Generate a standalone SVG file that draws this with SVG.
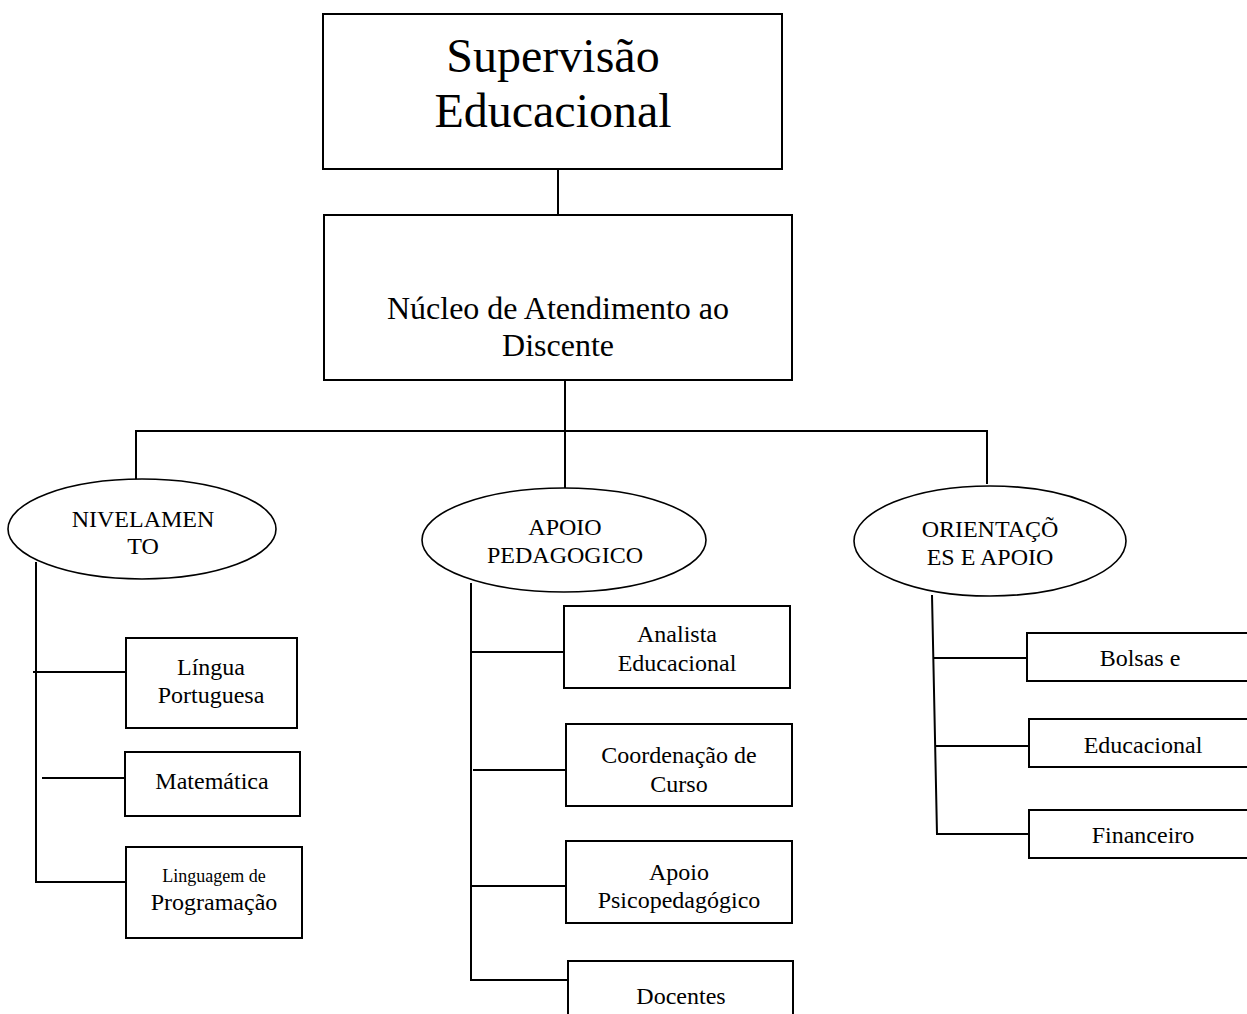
<svg xmlns="http://www.w3.org/2000/svg" width="1247" height="1014" viewBox="0 0 1247 1014">
<style>
.box{fill:#fff;stroke:#000;stroke-width:2}
.ell{fill:#fff;stroke:#000;stroke-width:1.6}
.ln{stroke:#000;stroke-width:2;fill:none}
text{font-family:"Liberation Serif","Times New Roman",serif;fill:#000;text-anchor:middle}
.t24{font-size:24px}
</style>
<rect width="1247" height="1014" fill="#fff"/>
<g id="connectors">
<line class="ln" x1="558" y1="166" x2="558" y2="216"/>
<line class="ln" x1="565" y1="380" x2="565" y2="488"/>
<line class="ln" x1="136" y1="431" x2="988" y2="431"/>
<line class="ln" x1="136" y1="430" x2="136" y2="480"/>
<line class="ln" x1="987" y1="430" x2="987" y2="484"/>
<polyline class="ln" points="36,562 36,882 126,882"/>
<line class="ln" x1="33" y1="672" x2="126" y2="672"/>
<line class="ln" x1="42" y1="778" x2="125" y2="778"/>
<polyline class="ln" points="471,583 471,980 568,980"/>
<line class="ln" x1="471" y1="652" x2="564" y2="652"/>
<line class="ln" x1="473" y1="770" x2="566" y2="770"/>
<line class="ln" x1="471" y1="886" x2="566" y2="886"/>
<polyline class="ln" points="932,595 937,834 1029,834"/>
<line class="ln" x1="933" y1="658" x2="1027" y2="658"/>
<line class="ln" x1="936" y1="746" x2="1029" y2="746"/>
</g>
<g id="supervisao">
<rect class="box" x="323" y="14" width="459" height="155"/>
<text x="553" y="72" font-size="48">Supervisão</text>
<text x="553" y="127" font-size="48">Educacional</text>
</g>
<g id="nucleo">
<rect class="box" x="324" y="215" width="468" height="165"/>
<text x="558" y="319" font-size="32">Núcleo de Atendimento ao</text>
<text x="558" y="356" font-size="32">Discente</text>
</g>
<g id="nivelamento">
<ellipse class="ell" cx="142" cy="529" rx="134" ry="50"/>
<text class="t24" x="143" y="527">NIVELAMEN</text>
<text class="t24" x="143" y="554">TO</text>
</g>
<g id="apoio-pedagogico">
<ellipse class="ell" cx="564" cy="540" rx="142" ry="52"/>
<text class="t24" x="565" y="535">APOIO</text>
<text class="t24" x="565" y="563">PEDAGOGICO</text>
</g>
<g id="orientacoes">
<ellipse class="ell" cx="990" cy="541" rx="136" ry="55"/>
<text class="t24" x="990" y="537">ORIENTAÇÕ</text>
<text class="t24" x="990" y="565">ES E APOIO</text>
</g>
<g id="lingua-portuguesa">
<rect class="box" x="126" y="638" width="171" height="90"/>
<text class="t24" x="211" y="675">Língua</text>
<text class="t24" x="211" y="703">Portuguesa</text>
</g>
<g id="matematica">
<rect class="box" x="125" y="752" width="175" height="64"/>
<text class="t24" x="212" y="789">Matemática</text>
</g>
<g id="programacao">
<rect class="box" x="126" y="847" width="176" height="91"/>
<text x="214" y="882" font-size="18">Linguagem de</text>
<text class="t24" x="214" y="910">Programação</text>
</g>
<g id="analista">
<rect class="box" x="564" y="606" width="226" height="82"/>
<text class="t24" x="677" y="642">Analista</text>
<text class="t24" x="677" y="671">Educacional</text>
</g>
<g id="coordenacao">
<rect class="box" x="566" y="724" width="226" height="82"/>
<text class="t24" x="679" y="763">Coordenação de</text>
<text class="t24" x="679" y="792">Curso</text>
</g>
<g id="psicopedagogico">
<rect class="box" x="566" y="841" width="226" height="82"/>
<text class="t24" x="679" y="880">Apoio</text>
<text class="t24" x="679" y="908">Psicopedagógico</text>
</g>
<g id="docentes">
<rect class="box" x="568" y="961" width="225" height="70"/>
<text class="t24" x="681" y="1004">Docentes</text>
</g>
<g id="bolsas">
<rect class="box" x="1027" y="633" width="240" height="48"/>
<text class="t24" x="1140" y="666">Bolsas e</text>
</g>
<g id="educacional">
<rect class="box" x="1029" y="719" width="240" height="48"/>
<text class="t24" x="1143" y="753">Educacional</text>
</g>
<g id="financeiro">
<rect class="box" x="1029" y="810" width="240" height="48"/>
<text class="t24" x="1143" y="843">Financeiro</text>
</g>
</svg>
